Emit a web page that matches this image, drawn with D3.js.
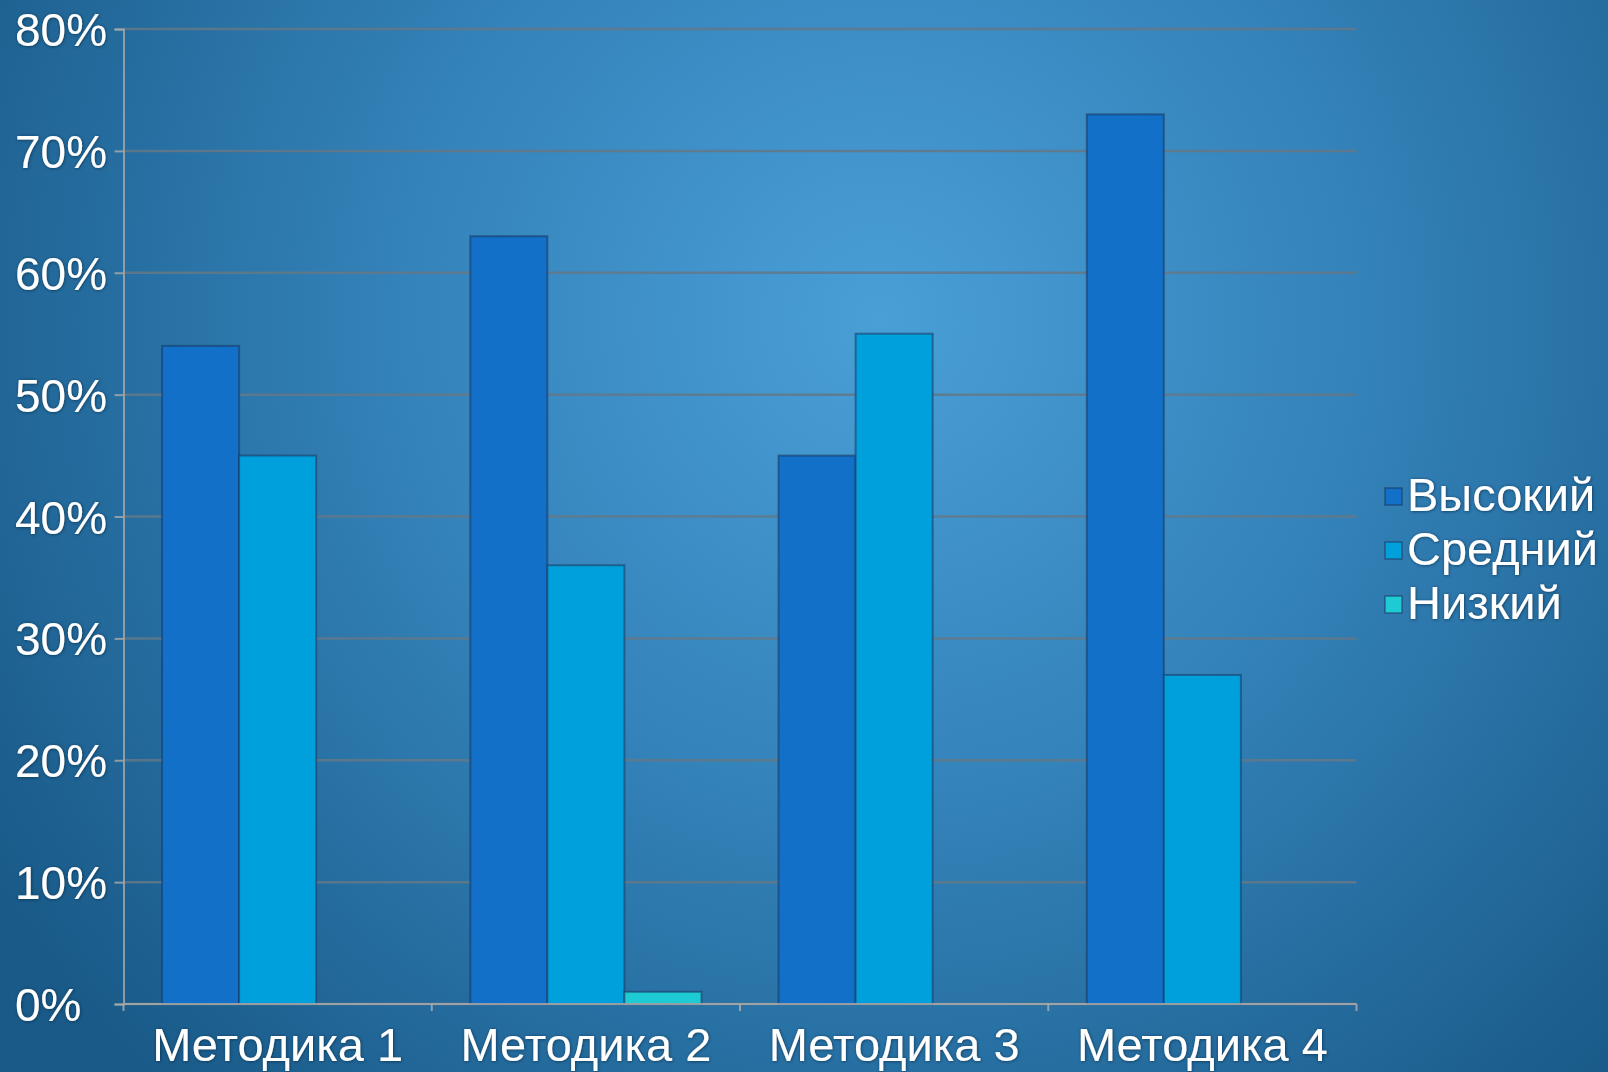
<!DOCTYPE html>
<html>
<head>
<meta charset="utf-8">
<script src="https://cdn.jsdelivr.net/npm/d3@7"></script>
<style>
    html, body { margin: 0; padding: 0; background: #1b5f8d; }
    svg { display: block; }
    text { font-family: "Liberation Sans", Arial, sans-serif; fill: #ffffff; }
</style>
</head>
<body>
<div id="plotSect"></div>
<script>
/* global d3 */

// Chart data //

let categories = ["Методика 1", "Методика 2", "Методика 3", "Методика 4"];
let series = ["Высокий", "Средний", "Низкий"];
let valsHigh = [0.54, 0.63, 0.45, 0.73];
let valsMid = [0.45, 0.36, 0.55, 0.27];
let valsLow = [0, 0.01, 0, 0];
let yTicks = [0, 0.1, 0.2, 0.3, 0.4, 0.5, 0.6, 0.7, 0.8];

let seriesVals = { "Высокий": valsHigh, "Средний": valsMid, "Низкий": valsLow };

function color(s) {
    if (s == "Высокий") {
        return "#1270c8";
    } else if (s == "Средний") {
        return "#00a0dc";
    } else if (s == "Низкий") {
        return "#1ecad4";
    }
    return "black";
}

// Initial chart setup //

let SVGwidth = 1608,
SVGheight = 1072,
margin = {top: 29, right: 251.5, bottom: 68, left: 123.5},
width = SVGwidth - margin.left - margin.right,
height = SVGheight - margin.top - margin.bottom;

let root = d3.select("#plotSect").append("svg")
    .attr("width", SVGwidth)
    .attr("height", SVGheight);

let defs = root.append("defs");

let grad = defs.append("radialGradient")
    .attr("id", "bg")
    .attr("gradientUnits", "userSpaceOnUse")
    .attr("cx", 880)
    .attr("cy", 320)
    .attr("r", 1050);
grad.append("stop").attr("offset", "0%").attr("stop-color", "#4a9fd7");
grad.append("stop").attr("offset", "45%").attr("stop-color", "#3483ba");
grad.append("stop").attr("offset", "100%").attr("stop-color", "#195a88");

let glow = defs.append("filter")
    .attr("id", "glow")
    .attr("x", "-10%").attr("y", "-20%")
    .attr("width", "120%").attr("height", "140%");
glow.append("feDropShadow")
    .attr("dx", 0.5)
    .attr("dy", 0.5)
    .attr("stdDeviation", 1.5)
    .attr("flood-color", "#0a2a44")
    .attr("flood-opacity", 0.8);

root.append("rect")
    .attr("width", SVGwidth)
    .attr("height", SVGheight)
    .attr("fill", "url(#bg)");

let svg = root.append("g")
    .attr("transform", "translate(" + margin.left + "," + margin.top + ")");

let xScale = d3.scaleBand().domain(categories).range([0, width]).padding(0);
let step = xScale.bandwidth();
let xInner = d3.scaleBand().domain(series).range([step * 0.125, step * 0.875]).padding(0);
let yScale = d3.scaleLinear().domain([0, 0.8]).range([height, 0]);

// gridlines
svg.selectAll(".grid")
    .data(yTicks)
    .enter().append("line")
    .attr("class", "grid")
    .attr("x1", 0)
    .attr("x2", width)
    .attr("y1", function(d) { return yScale(d); })
    .attr("y2", function(d) { return yScale(d); })
    .attr("stroke", "rgba(100,120,135,0.85)")
    .attr("stroke-width", 2.5);

// y axis
let yAxis = d3.axisLeft(yScale)
    .tickValues(yTicks)
    .tickSize(9)
    .tickFormat(d3.format(".0%"));

let yG = svg.append("g")
    .attr("class", "yAxis")
    .call(yAxis);
yG.select(".domain").attr("stroke", "rgba(170,170,170,0.8)").attr("stroke-width", 2);
yG.selectAll(".tick line").attr("stroke", "rgba(170,170,170,0.8)").attr("stroke-width", 2);
yG.selectAll(".tick text")
    .attr("x", 15 - margin.left)
    .attr("text-anchor", "start")
    .attr("font-size", 46)
    .attr("fill", "#ffffff")
    .attr("filter", "url(#glow)")
    .attr("dy", "0.36em");

// bars
let groups = svg.selectAll(".cat")
    .data(categories)
    .enter().append("g")
    .attr("class", "cat")
    .attr("transform", function(d) { return "translate(" + xScale(d) + ",0)"; });

groups.selectAll("rect")
    .data(function(d, i) {
        return series.map(function(s) { return {s: s, v: seriesVals[s][i]}; });
    })
    .enter().filter(function(d) { return d.v > 0; })
    .append("rect")
    .attr("x", function(d) { return xInner(d.s); })
    .attr("y", function(d) { return yScale(d.v); })
    .attr("width", xInner.bandwidth())
    .attr("height", function(d) { return height - yScale(d.v); })
    .attr("fill", function(d) { return color(d.s); })
    .attr("stroke", "rgba(25,55,95,0.55)")
    .attr("stroke-width", 2);

// x axis line and category boundary ticks
svg.append("line")
    .attr("x1", 0)
    .attr("x2", width)
    .attr("y1", height)
    .attr("y2", height)
    .attr("stroke", "rgba(170,170,170,0.85)")
    .attr("stroke-width", 2);

let edges = categories.map(function(c) { return xScale(c); }).concat([width]);
svg.selectAll(".xtick")
    .data(edges)
    .enter().append("line")
    .attr("class", "xtick")
    .attr("x1", function(d) { return d; })
    .attr("x2", function(d) { return d; })
    .attr("y1", height)
    .attr("y2", height + 7)
    .attr("stroke", "rgba(170,170,170,0.85)")
    .attr("stroke-width", 2);

svg.selectAll(".xlabel")
    .data(categories)
    .enter().append("text")
    .attr("class", "xlabel")
    .attr("x", function(d) { return xScale(d) + step / 2; })
    .attr("y", height + 57)
    .attr("text-anchor", "middle")
    .attr("font-size", 47)
    .attr("filter", "url(#glow)")
    .text(function(d) { return d; });

// legend
let legend = root.selectAll(".legend")
    .data(series)
    .enter().append("g")
    .attr("class", "legend")
    .attr("transform", function(d, i) { return "translate(1385," + (511 + i * 54) + ")"; });

legend.append("rect")
    .attr("x", 0)
    .attr("y", -23)
    .attr("width", 17)
    .attr("height", 17)
    .attr("fill", color)
    .attr("stroke", "rgba(25,55,95,0.6)")
    .attr("stroke-width", 1.5);

legend.append("text")
    .attr("x", 22)
    .attr("y", 0)
    .attr("font-size", 47)
    .attr("filter", "url(#glow)")
    .text(function(d) { return d; });
</script>
</body>
</html>
